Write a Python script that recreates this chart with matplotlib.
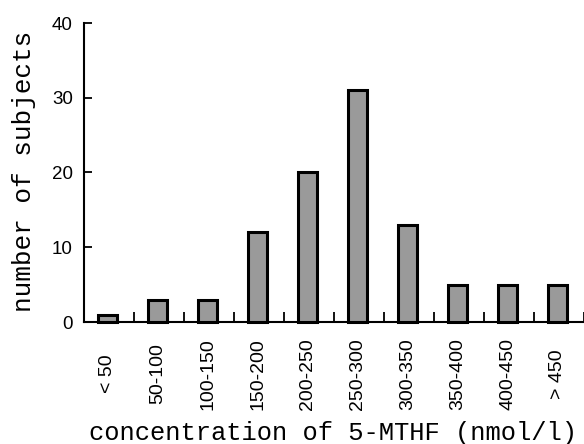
import matplotlib
matplotlib.use('Agg')
import matplotlib.pyplot as plt
import numpy as np

# subjects per 5-MTHF concentration class
classes = ['< 50', '50-100', '100-150', '150-200', '200-250',
           '250-300', '300-350', '350-400', '400-450', '> 450']
counts = [1, 3, 3, 12, 20, 31, 13, 5, 5, 5]
yticks = [0, 10, 20, 30, 40]

plt.rcParams['font.family'] = ['Liberation Sans', 'DejaVu Sans']

W, H = 584, 444
fig = plt.figure(figsize=(W / 100, H / 100), dpi=100)
ax = fig.add_axes([84 / W, 1 - 322 / H, (583.5 - 84) / W, (322 - 23) / H])

pos = np.arange(len(classes)) + 0.48
ax.bar(pos, counts, width=0.38, color='#9a9a9a', edgecolor='black',
       linewidth=2.2, zorder=3, clip_on=False)

ax.set_xlim(0, len(classes))
ax.set_ylim(0, 40)

for side in ['top', 'right']:
    ax.spines[side].set_visible(False)
for side in ['left', 'bottom']:
    ax.spines[side].set_linewidth(1.5)

# labels under the bars, boundary ticks between classes
ax.set_xticks(pos)
ax.set_xticklabels(classes, rotation=90, va='center', fontsize=14)
ax.set_xticks(np.arange(1, len(classes) + 1), minor=True)
ax.tick_params(axis='x', which='major', length=0, pad=37.4)
ax.tick_params(axis='x', which='minor', direction='in', length=7, width=1.3)

ax.set_yticks(yticks)
ax.tick_params(axis='y', direction='in', length=6, width=1.3, pad=8, labelsize=13.5)

fig.text(333 / W, 1 - 433 / H, 'concentration of 5-MTHF (nmol/l)',
         family='Liberation Mono', fontsize=18.4, ha='center', va='center')
fig.text(24 / W, 1 - 171.5 / H, 'number of subjects',
         family='Liberation Mono', fontsize=18.8, rotation=90,
         ha='center', va='center')

fig.savefig('out.png', dpi=100)
